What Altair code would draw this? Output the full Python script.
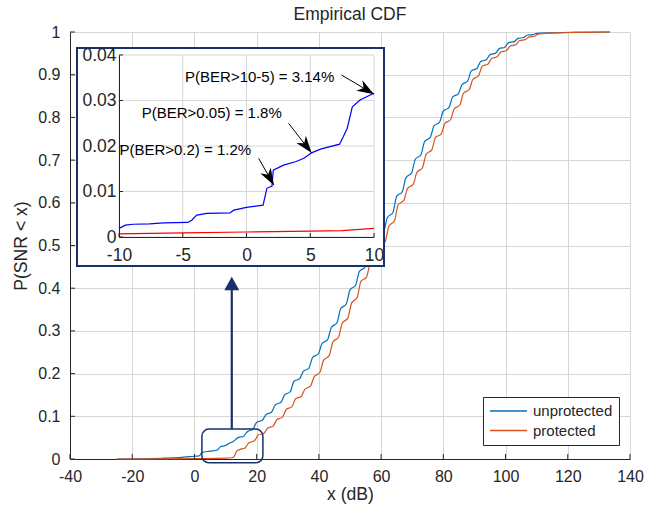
import math
import altair as alt
import pandas as pd

FONT = "Liberation Sans"
TXT = "#262626"
NAVY = "#17306E"
GRID = "#d6d6d6"

# ------------------------------------------------------------------ data
series_names = ["unprotected", "protected"]
series_colors = ["#0072BD", "#D95319"]

unprot_x = [-25, -14, -10, -5, 0, 1.5, 2, 2.2, 5, 7.3, 8.3, 10, 11, 12.5,
            14, 15.8, 17, 18.8, 20, 21.8, 23, 24.8, 26, 27.8, 29, 30.8, 32, 33.8,
            35, 36.8, 38, 39.8, 41, 42.8, 44, 45.8, 47, 48.8, 50, 51.8, 53, 54.8,
            56, 57.8, 59, 60.8, 62, 63.8, 65, 66.8, 68, 69.8, 71, 72.8, 74, 75.8,
            77, 78.8, 80, 81.8, 83, 84.8, 86, 87.8, 89, 90.8, 92, 93.8, 95, 96.8,
            98, 99.8, 101, 102.8, 104, 105.8, 107, 108.8, 110, 116, 121.8, 133.6]
unprot_y = [0, 0.001, 0.0019, 0.0032, 0.0065, 0.0075, 0.0112, 0.0147, 0.0183, 0.0204,
            0.0286, 0.0316, 0.036, 0.041,
            0.050, 0.0535, 0.064, 0.0695, 0.086, 0.0905, 0.104, 0.110, 0.127, 0.133,
            0.150, 0.158, 0.182, 0.188, 0.205, 0.213, 0.238, 0.246, 0.270, 0.2795,
            0.308, 0.319, 0.352, 0.363, 0.396, 0.407, 0.439, 0.449, 0.480, 0.490,
            0.520, 0.531, 0.565, 0.5775, 0.615, 0.626, 0.659, 0.670, 0.702, 0.7125,
            0.744, 0.753, 0.780, 0.789, 0.815, 0.823, 0.848, 0.855, 0.877, 0.885,
            0.909, 0.9145, 0.931, 0.935, 0.947, 0.9505, 0.961, 0.9645, 0.975, 0.9775,
            0.985, 0.987, 0.993, 0.994, 0.997, 0.998, 0.999, 1.0]

prot_x = [-25, 0, 10, 12, 12.8, 13.5, 14.5, 16.3, 17.5, 19.3, 20.5, 22.3, 23.5, 25.3,
          26.5, 28.3, 29.5, 31.3, 32.5, 34.3, 35.5, 37.3, 38.5, 40.3, 41.5, 43.3,
          44.5, 46.3, 47.5, 49.3, 50.5, 52.3, 53.5, 55.3, 56.5, 58.3, 59.5, 61.3,
          62.5, 64.3, 65.5, 67.3, 68.5, 70.3, 71.5, 73.3, 74.5, 76.3, 77.5, 79.3,
          80.5, 82.3, 83.5, 85.3, 86.5, 88.3, 89.5, 91.3, 92.5, 94.3, 95.5, 97.3,
          98.5, 100.3, 101.5, 103.3, 104.5, 106.3, 107.5, 109.3, 110.5, 116, 122, 133.6]
prot_y = [0, 0.001, 0.0019, 0.003, 0.006, 0.018, 0.022, 0.026, 0.038, 0.0425, 0.056,
          0.060, 0.072, 0.077, 0.092, 0.098, 0.116, 0.122, 0.141, 0.1465, 0.163,
          0.1705, 0.193, 0.2025, 0.231, 0.242, 0.274, 0.285, 0.318, 0.330, 0.365,
          0.378, 0.416, 0.426, 0.457, 0.467, 0.497, 0.509, 0.545, 0.558, 0.596,
          0.6055, 0.634, 0.643, 0.671, 0.682, 0.714, 0.724, 0.753, 0.761, 0.786,
          0.7945, 0.820, 0.829, 0.857, 0.865, 0.889, 0.897, 0.920, 0.9245, 0.938,
          0.942, 0.953, 0.9565, 0.967, 0.970, 0.980, 0.982, 0.988, 0.990, 0.995,
          0.998, 0.999, 1.0]

inset_unprot_x = [-10, -9.5, -8.9, -7.6, -6.5, -4.6, -4.3, -3.9, -3.1, -1.3, -1.0,
                  0.0, 1.3, 1.6, 2.0, 2.1, 2.9, 3.9, 4.5, 5.1, 5.8, 7.3, 7.6, 7.9,
                  8.3, 8.9, 10]
inset_unprot_y = [0.0019, 0.0026, 0.0028, 0.0029, 0.0031, 0.0032, 0.0037, 0.0048,
                  0.0052, 0.0053, 0.0059, 0.0065, 0.0070, 0.0107, 0.0112, 0.0147,
                  0.0158, 0.0166, 0.0173, 0.0185, 0.0193, 0.0204, 0.0221, 0.0239,
                  0.0286, 0.0301, 0.0316]
inset_prot_x = [-10, -5, 0, 5, 7.5, 10]
inset_prot_y = [0.0007, 0.0009, 0.0011, 0.0013, 0.0014, 0.0019]

main_x_ticks = [-40, -20, 0, 20, 40, 60, 80, 100, 120, 140]
main_y_ticks = [0, 0.1, 0.2, 0.3, 0.4, 0.5, 0.6, 0.7, 0.8, 0.9, 1]
inset_x_ticks = [-10, -5, 0, 5, 10]
inset_y_ticks = [0, 0.01, 0.02, 0.03, 0.04]

ann_labels = ["P(BER>10-5) = 3.14%", "P(BER>0.05) = 1.8%", "P(BER>0.2) = 1.2%"]
ann_label_x = [-4.82, -8.22, -9.97]
ann_label_y = [0.0352, 0.0272, 0.0191]
ann_tail_x = [7.45, 3.3, 0.95]
ann_tail_y = [0.0356, 0.0250, 0.0173]
ann_tip_x = [10, 5.1, 2.15]
ann_tip_y = [0.0314, 0.0185, 0.0114]

zoom_box_x = [2.4, 22]
zoom_box_y = [-0.009, 0.07]
zoom_arrow_x = 12
zoom_arrow_y = [0.07, 0.427]

# ------------------------------------------------------------------ layout
W, H = 560, 427
IX = [49, 304]          # inset plot range (px, inside main plot)
IY = [205, 23]
FRAME = [7, 314, 16, 234]

main_df = pd.DataFrame({
    "x": unprot_x + prot_x,
    "y": unprot_y + prot_y,
    "series": [series_names[0]] * len(unprot_x) + [series_names[1]] * len(prot_x),
    "order": list(range(len(unprot_x))) + list(range(len(prot_x))),
})

xs = alt.Scale(domain=[-40, 140], range=[0, W], nice=False, zero=False)
ys = alt.Scale(domain=[0, 1], range=[H, 0], nice=False, zero=False)

axis_common = dict(
    labelFont=FONT, labelColor=TXT, labelFontSize=16,
    titleFont=FONT, titleColor=TXT, titleFontSize=17.6, titleFontWeight="normal",
    domainColor=TXT, domainWidth=1, ticks=False, grid=True,
    gridColor=GRID, gridWidth=1, labelFlush=False, labelOverlap=False,
    labelExpr="datum.value + ''", zindex=0,
)

main_lines = alt.Chart(main_df).mark_line(strokeWidth=1.2, interpolate="monotone").encode(
    x=alt.X("x:Q", scale=xs, axis=alt.Axis(values=main_x_ticks, title="x (dB)", orient="bottom",
                                            labelPadding=9, titlePadding=1, **axis_common)),
    y=alt.Y("y:Q", scale=ys, axis=alt.Axis(values=main_y_ticks, title="P(SNR < x)", orient="left",
                                            labelPadding=10, titlePadding=7, **axis_common)),
    color=alt.Color("series:N",
                    scale=alt.Scale(domain=series_names, range=series_colors),
                    legend=alt.Legend(orient="none", legendX=413, legendY=365, title=None,
                                      symbolType="stroke", symbolSize=1369,
                                      symbolStrokeWidth=1.3, clipHeight=16,
                                      labelFont=FONT, labelFontSize=15, labelColor=TXT,
                                      labelOffset=5, rowPadding=3.5, padding=6,
                                      strokeColor=TXT, fillColor="white")),
    order="order:Q",
)

mxt = alt.Chart(pd.DataFrame({"t": main_x_ticks})).mark_rule(color=TXT, strokeWidth=1).encode(
    x=alt.X("t:Q", scale=xs, axis=None), y=alt.value(H), y2=alt.value(H - 5))
myt = alt.Chart(pd.DataFrame({"t": main_y_ticks})).mark_rule(color=TXT, strokeWidth=1).encode(
    y=alt.Y("t:Q", scale=ys, axis=None), x=alt.value(0), x2=alt.value(5))

box = alt.Chart(pd.DataFrame({"x": [zoom_box_x[0]], "x2": [zoom_box_x[1]],
                              "y": [zoom_box_y[0]], "y2": [zoom_box_y[1]]})).mark_rect(
    fill="white", fillOpacity=0, stroke=NAVY, strokeWidth=1.5, cornerRadius=7, clip=False
).encode(x=alt.X("x:Q", scale=xs, axis=None), x2="x2:Q",
         y=alt.Y("y:Q", scale=ys, axis=None), y2="y2:Q")

arr_df = pd.DataFrame({"x": [zoom_arrow_x], "y": [zoom_arrow_y[0]], "y2": [zoom_arrow_y[1] - 0.03],
                       "ty": [zoom_arrow_y[1]]})
arrow_shaft = alt.Chart(arr_df).mark_rule(color=NAVY, strokeWidth=2.2).encode(
    x=alt.X("x:Q", scale=xs, axis=None), y=alt.Y("y:Q", scale=ys, axis=None), y2="y2:Q")
arrow_head = alt.Chart(arr_df).mark_point(
    shape="M0,0L0.75,1.35L-0.75,1.35Z", size=400, filled=True, fill=NAVY,
    strokeWidth=0, opacity=1
).encode(x=alt.X("x:Q", scale=xs, axis=None), y=alt.Y("ty:Q", scale=ys, axis=None))

# ------------------------------------------------------------------ inset
ixs = alt.Scale(domain=[-10, 10], range=IX, nice=False, zero=False)
iys = alt.Scale(domain=[0, 0.04], range=IY, nice=False, zero=False)

frame = alt.Chart(pd.DataFrame({"a": [0]})).mark_rect(
    fill="white", stroke=NAVY, strokeWidth=2
).encode(x=alt.value(FRAME[0]), x2=alt.value(FRAME[1]),
         y=alt.value(FRAME[2]), y2=alt.value(FRAME[3]))

igx = alt.Chart(pd.DataFrame({"t": inset_x_ticks})).mark_rule(color=GRID, strokeWidth=1).encode(
    x=alt.X("t:Q", scale=ixs, axis=None), y=alt.value(IY[0]), y2=alt.value(IY[1]))
igy = alt.Chart(pd.DataFrame({"t": inset_y_ticks})).mark_rule(color=GRID, strokeWidth=1).encode(
    y=alt.Y("t:Q", scale=iys, axis=None), x=alt.value(IX[0]), x2=alt.value(IX[1]))
itx = alt.Chart(pd.DataFrame({"t": inset_x_ticks})).mark_rule(color=TXT, strokeWidth=1).encode(
    x=alt.X("t:Q", scale=ixs, axis=None), y=alt.value(IY[0]), y2=alt.value(IY[0] - 4))
ity = alt.Chart(pd.DataFrame({"t": inset_y_ticks})).mark_rule(color=TXT, strokeWidth=1).encode(
    y=alt.Y("t:Q", scale=iys, axis=None), x=alt.value(IX[0]), x2=alt.value(IX[0] + 4))

inset_axis = dict(
    labelFont=FONT, labelColor=TXT, labelFontSize=17.5, domainColor=TXT, domainWidth=1,
    ticks=False, grid=False, labelFlush=False, labelOverlap=False, zindex=2, title="",
    labelExpr="datum.value + ''",
)

ins_blue = alt.Chart(pd.DataFrame({"x": inset_unprot_x, "y": inset_unprot_y})).mark_line(
    color="#0000FF", strokeWidth=1.2).encode(
    x=alt.X("x:Q", scale=ixs, axis=alt.Axis(orient="bottom", offset=IY[0] - H,
                                             values=inset_x_ticks, labelPadding=9, **inset_axis)),
    y=alt.Y("y:Q", scale=iys, axis=alt.Axis(orient="left", offset=-IX[0],
                                             values=inset_y_ticks, labelPadding=3, **inset_axis)),
)
ins_red = alt.Chart(pd.DataFrame({"x": inset_prot_x, "y": inset_prot_y})).mark_line(
    color="#FF0000", strokeWidth=1.2).encode(
    x=alt.X("x:Q", scale=ixs, axis=None), y=alt.Y("y:Q", scale=iys, axis=None))

sx = (IX[1] - IX[0]) / 20.0
sy = (IY[0] - IY[1]) / 0.04
angles = []
for tx, ty, hx, hy in zip(ann_tail_x, ann_tail_y, ann_tip_x, ann_tip_y):
    dx = (hx - tx) * sx
    dy = -(hy - ty) * sy
    angles.append((math.degrees(math.atan2(dx, -dy)) + 360) % 360)

ann_df = pd.DataFrame({"label": ann_labels, "lx": ann_label_x, "ly": ann_label_y,
                       "tx": ann_tail_x, "ty": ann_tail_y, "hx": ann_tip_x, "hy": ann_tip_y,
                       "angle": angles})
ann_text = alt.Chart(ann_df).mark_text(
    align="left", baseline="middle", font=FONT, fontSize=15, color="black"
).encode(x=alt.X("lx:Q", scale=ixs, axis=None), y=alt.Y("ly:Q", scale=iys, axis=None), text="label:N")
ann_line = alt.Chart(ann_df).mark_rule(color="black", strokeWidth=1).encode(
    x=alt.X("tx:Q", scale=ixs, axis=None), y=alt.Y("ty:Q", scale=iys, axis=None),
    x2="hx:Q", y2="hy:Q")
ann_head = alt.Chart(ann_df).mark_point(
    shape="M0,0L0.6,1.7L0,1.2L-0.6,1.7Z", size=400, filled=True, fill="black",
    strokeWidth=0, opacity=1
).encode(x=alt.X("hx:Q", scale=ixs, axis=None), y=alt.Y("hy:Q", scale=iys, axis=None),
         angle=alt.Angle("angle:Q", scale=None))

chart = alt.layer(
    main_lines, box, arrow_shaft, arrow_head, mxt, myt,
    frame, igx, igy, ins_red, ins_blue, itx, ity, ann_line, ann_head, ann_text,
).resolve_scale(
    x="independent", y="independent"
).properties(
    width=W, height=H,
    title=alt.TitleParams("Empirical CDF", font=FONT, fontSize=17.5, fontWeight="normal",
                          color=TXT, anchor="middle", offset=1),
    autosize=alt.AutoSizeParams(type="none"),
    padding={"left": 70, "top": 32, "right": 34, "bottom": 52},
    background="white",
).configure_view(strokeWidth=0)

chart.save("out.html", embed_options={"renderer": "svg", "actions": False})
